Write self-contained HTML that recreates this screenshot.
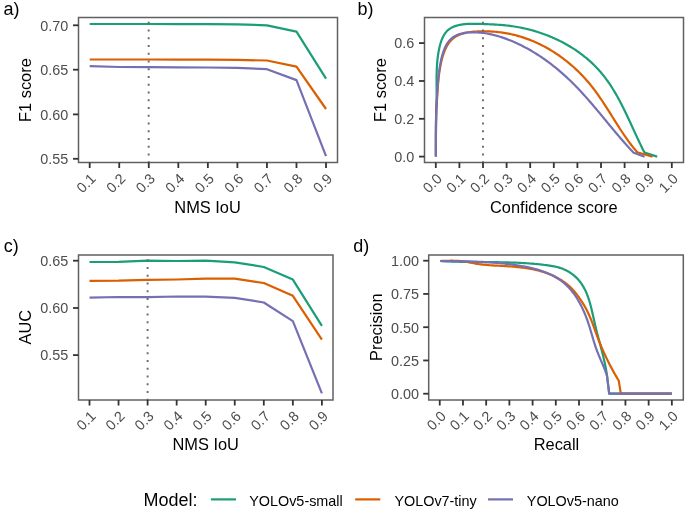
<!DOCTYPE html><html><head><meta charset="utf-8"><style>html,body{margin:0;padding:0;background:#fff;width:685px;height:510px;overflow:hidden}svg{display:block}text{font-family:"Liberation Sans",sans-serif}</style></head><body>
<svg width="685" height="510" viewBox="0 0 685 510">
<rect width="685" height="510" fill="#fff"/>
<path d="M89.70,24.00 L119.24,24.00 L148.78,24.00 L178.32,24.05 L207.86,24.10 L237.40,24.40 L266.94,25.30 L296.48,31.60 L326.02,78.70" fill="none" stroke="#1b9e77" stroke-width="2.2" stroke-linejoin="round"/>
<path d="M89.70,59.50 L119.24,59.50 L148.78,59.50 L178.32,59.60 L207.86,59.70 L237.40,59.90 L266.94,60.50 L296.48,66.60 L326.02,109.00" fill="none" stroke="#d95f02" stroke-width="2.2" stroke-linejoin="round"/>
<path d="M89.70,66.20 L119.24,67.00 L148.78,67.20 L178.32,67.30 L207.86,67.50 L237.40,67.80 L266.94,69.20 L296.48,80.10 L326.02,156.10" fill="none" stroke="#7570b3" stroke-width="2.2" stroke-linejoin="round"/>
<line x1="148.68" y1="163.2" x2="148.68" y2="17.5" stroke="#6a6a6a" stroke-width="1.9" stroke-dasharray="1.9 5.85"/>
<rect x="78.5" y="17.5" width="259.0" height="145.0" fill="none" stroke="#606060" stroke-width="1.5"/>
<line x1="73.0" y1="25.3" x2="78.5" y2="25.3" stroke="#333" stroke-width="1.8"/>
<line x1="73.0" y1="69.7" x2="78.5" y2="69.7" stroke="#333" stroke-width="1.8"/>
<line x1="73.0" y1="114.4" x2="78.5" y2="114.4" stroke="#333" stroke-width="1.8"/>
<line x1="73.0" y1="158.8" x2="78.5" y2="158.8" stroke="#333" stroke-width="1.8"/>
<line x1="89.7" y1="162.5" x2="89.7" y2="168.0" stroke="#333" stroke-width="1.8"/>
<line x1="119.24000000000001" y1="162.5" x2="119.24000000000001" y2="168.0" stroke="#333" stroke-width="1.8"/>
<line x1="148.78" y1="162.5" x2="148.78" y2="168.0" stroke="#333" stroke-width="1.8"/>
<line x1="178.32" y1="162.5" x2="178.32" y2="168.0" stroke="#333" stroke-width="1.8"/>
<line x1="207.86" y1="162.5" x2="207.86" y2="168.0" stroke="#333" stroke-width="1.8"/>
<line x1="237.39999999999998" y1="162.5" x2="237.39999999999998" y2="168.0" stroke="#333" stroke-width="1.8"/>
<line x1="266.94" y1="162.5" x2="266.94" y2="168.0" stroke="#333" stroke-width="1.8"/>
<line x1="296.48" y1="162.5" x2="296.48" y2="168.0" stroke="#333" stroke-width="1.8"/>
<line x1="326.02" y1="162.5" x2="326.02" y2="168.0" stroke="#333" stroke-width="1.8"/>
<g transform="translate(0 0.3)">
<path d="M435.90,156.20 L435.90,154.62 L435.90,153.04 L435.90,151.46 L435.90,149.88 L435.90,148.30 L435.89,146.72 L435.90,145.14 L435.90,143.56 L435.90,141.98 L435.90,140.40 L435.90,138.82 L435.91,137.24 L435.91,135.66 L435.92,134.08 L435.93,132.50 L435.94,130.92 L435.95,129.34 L435.96,127.76 L435.98,126.18 L435.99,124.60 L436.01,123.02 L436.03,121.44 L436.06,119.86 L436.08,118.28 L436.11,116.70 L436.14,115.12 L436.18,113.54 L436.22,111.96 L436.26,110.38 L436.30,108.80 L436.38,107.31 L436.45,105.81 L436.50,104.32 L436.55,102.82 L436.58,101.32 L436.61,99.82 L436.63,98.31 L436.64,96.81 L436.64,95.30 L436.64,93.79 L436.64,92.29 L436.63,90.78 L436.62,89.26 L436.61,87.75 L436.60,86.24 L436.59,84.73 L436.58,83.21 L436.58,81.70 L436.58,80.18 L436.58,78.67 L436.59,77.15 L436.60,75.64 L436.63,74.12 L436.66,72.60 L436.70,71.09 L436.75,69.57 L436.82,68.06 L436.90,66.54 L436.99,65.03 L437.09,63.51 L437.21,62.00 L437.35,60.49 L437.50,58.98 L437.68,57.47 L437.87,55.96 L438.08,54.45 L438.32,52.94 L438.58,51.44 L438.86,49.93 L439.16,48.43 L439.49,46.93 L439.85,45.44 L440.25,43.96 L440.68,42.49 L441.15,41.05 L441.66,39.64 L442.22,38.26 L442.83,36.92 L443.49,35.63 L444.22,34.39 L445.00,33.20 L445.86,32.08 L446.78,31.02 L447.77,30.03 L448.84,29.12 L449.99,28.30 L451.22,27.55 L452.51,26.89 L453.87,26.30 L455.28,25.78 L456.74,25.33 L458.23,24.94 L459.75,24.61 L461.29,24.33 L462.84,24.10 L464.39,23.91 L465.95,23.76 L467.50,23.65 L469.05,23.57 L470.61,23.52 L472.15,23.49 L473.70,23.49 L475.24,23.50 L476.78,23.53 L478.32,23.57 L479.85,23.61 L481.38,23.66 L482.91,23.70 L484.43,23.75 L485.94,23.81 L487.46,23.87 L488.97,23.93 L490.47,24.00 L491.98,24.07 L493.48,24.15 L494.97,24.23 L496.47,24.33 L497.96,24.43 L499.45,24.54 L500.94,24.65 L502.42,24.78 L503.91,24.92 L505.39,25.06 L506.87,25.22 L508.35,25.39 L509.83,25.57 L511.31,25.77 L512.79,25.97 L514.26,26.19 L515.74,26.43 L517.22,26.68 L518.69,26.94 L520.17,27.22 L521.64,27.52 L523.12,27.82 L524.59,28.15 L526.06,28.48 L527.53,28.84 L528.99,29.20 L530.46,29.58 L531.92,29.98 L533.38,30.38 L534.83,30.81 L536.28,31.24 L537.73,31.70 L539.18,32.16 L540.62,32.64 L542.05,33.14 L543.49,33.64 L544.91,34.17 L546.34,34.70 L547.75,35.25 L549.17,35.82 L550.57,36.39 L551.97,36.99 L553.37,37.59 L554.76,38.21 L556.14,38.85 L557.51,39.49 L558.88,40.15 L560.24,40.83 L561.60,41.52 L562.94,42.22 L564.28,42.94 L565.61,43.67 L566.93,44.41 L568.25,45.17 L569.55,45.94 L570.85,46.72 L572.13,47.52 L573.41,48.33 L574.67,49.15 L575.93,49.99 L577.18,50.84 L578.41,51.71 L579.64,52.59 L580.85,53.48 L582.06,54.38 L583.25,55.30 L584.43,56.23 L585.60,57.18 L586.76,58.13 L587.90,59.10 L589.03,60.09 L590.15,61.08 L591.26,62.09 L592.35,63.12 L593.43,64.15 L594.50,65.20 L595.55,66.26 L596.59,67.34 L597.61,68.43 L598.62,69.53 L599.61,70.64 L600.59,71.76 L601.56,72.90 L602.50,74.05 L603.44,75.22 L604.36,76.39 L605.27,77.58 L606.16,78.77 L607.04,79.98 L607.91,81.20 L608.77,82.43 L609.61,83.67 L610.44,84.91 L611.26,86.17 L612.07,87.44 L612.87,88.71 L613.66,89.99 L614.44,91.28 L615.21,92.58 L615.97,93.88 L616.72,95.20 L617.46,96.51 L618.19,97.84 L618.92,99.17 L619.64,100.50 L620.35,101.85 L621.05,103.19 L621.75,104.54 L622.44,105.90 L623.12,107.26 L623.80,108.62 L624.47,109.99 L625.14,111.36 L625.80,112.73 L626.46,114.10 L627.12,115.48 L627.77,116.86 L628.42,118.24 L629.06,119.62 L629.71,121.00 L630.35,122.39 L630.98,123.77 L631.62,125.15 L632.25,126.54 L632.89,127.92 L633.52,129.30 L634.15,130.68 L634.79,132.05 L635.42,133.43 L636.05,134.80 L636.69,136.17 L637.32,137.54 L637.96,138.91 L638.60,140.27 L639.24,141.62 L639.89,142.98 L640.53,144.32 L641.18,145.67 L641.84,147.01 L642.50,148.34 L643.16,149.66 L643.83,150.99 L644.50,152.30 L657.20,156.30" fill="none" stroke="#1b9e77" stroke-width="2.2" stroke-linejoin="round"/>
<path d="M435.90,156.20 L435.90,154.62 L435.90,153.04 L435.90,151.46 L435.90,149.88 L435.90,148.30 L435.89,146.72 L435.90,145.14 L435.90,143.56 L435.90,141.98 L435.90,140.40 L435.90,138.82 L435.91,137.24 L435.91,135.66 L435.92,134.08 L435.93,132.50 L435.94,130.92 L435.95,129.34 L435.96,127.76 L435.98,126.18 L435.99,124.60 L436.01,123.02 L436.03,121.44 L436.06,119.86 L436.08,118.28 L436.11,116.70 L436.14,115.12 L436.18,113.54 L436.22,111.96 L436.26,110.38 L436.30,108.80 L436.43,107.27 L436.55,105.75 L436.66,104.23 L436.77,102.72 L436.87,101.21 L436.97,99.71 L437.06,98.21 L437.16,96.71 L437.25,95.22 L437.35,93.73 L437.44,92.24 L437.54,90.76 L437.64,89.27 L437.74,87.79 L437.85,86.31 L437.97,84.82 L438.09,83.34 L438.22,81.86 L438.36,80.37 L438.51,78.89 L438.67,77.40 L438.84,75.91 L439.03,74.42 L439.23,72.92 L439.44,71.42 L439.67,69.92 L439.92,68.41 L440.18,66.90 L440.47,65.38 L440.77,63.86 L441.09,62.33 L441.44,60.80 L441.81,59.27 L442.21,57.75 L442.64,56.24 L443.10,54.75 L443.59,53.27 L444.12,51.82 L444.68,50.39 L445.28,48.99 L445.92,47.63 L446.60,46.31 L447.33,45.03 L448.10,43.79 L448.92,42.61 L449.79,41.48 L450.71,40.41 L451.69,39.40 L452.72,38.46 L453.80,37.59 L454.95,36.79 L456.14,36.06 L457.39,35.39 L458.68,34.78 L460.01,34.22 L461.38,33.73 L462.79,33.29 L464.23,32.89 L465.69,32.54 L467.19,32.24 L468.70,31.98 L470.23,31.75 L471.78,31.57 L473.34,31.41 L474.90,31.28 L476.48,31.18 L478.05,31.10 L479.62,31.05 L481.19,31.01 L482.74,30.99 L484.30,30.99 L485.85,31.00 L487.39,31.03 L488.93,31.08 L490.46,31.15 L491.98,31.23 L493.50,31.34 L495.02,31.46 L496.52,31.59 L498.03,31.75 L499.53,31.92 L501.02,32.11 L502.51,32.32 L503.99,32.54 L505.47,32.79 L506.94,33.05 L508.41,33.33 L509.88,33.62 L511.34,33.94 L512.79,34.27 L514.24,34.62 L515.69,34.98 L517.13,35.37 L518.57,35.77 L520.00,36.19 L521.43,36.62 L522.85,37.08 L524.27,37.55 L525.68,38.04 L527.09,38.54 L528.49,39.06 L529.89,39.60 L531.28,40.15 L532.67,40.72 L534.05,41.30 L535.42,41.90 L536.79,42.52 L538.15,43.15 L539.51,43.80 L540.85,44.46 L542.20,45.14 L543.53,45.83 L544.86,46.54 L546.18,47.26 L547.50,47.99 L548.80,48.74 L550.10,49.51 L551.40,50.28 L552.68,51.07 L553.96,51.88 L555.23,52.70 L556.49,53.53 L557.74,54.37 L558.99,55.23 L560.22,56.10 L561.45,56.99 L562.67,57.88 L563.88,58.79 L565.08,59.71 L566.28,60.65 L567.46,61.59 L568.63,62.55 L569.80,63.52 L570.96,64.50 L572.10,65.49 L573.24,66.49 L574.36,67.50 L575.48,68.53 L576.59,69.56 L577.68,70.61 L578.77,71.67 L579.85,72.73 L580.91,73.81 L581.97,74.90 L583.01,75.99 L584.04,77.10 L585.06,78.22 L586.07,79.34 L587.07,80.48 L588.06,81.62 L589.03,82.77 L590.00,83.94 L590.95,85.11 L591.89,86.29 L592.82,87.47 L593.74,88.67 L594.65,89.87 L595.55,91.08 L596.44,92.29 L597.32,93.51 L598.19,94.74 L599.05,95.98 L599.91,97.22 L600.76,98.46 L601.60,99.71 L602.44,100.96 L603.27,102.22 L604.10,103.48 L604.92,104.74 L605.74,106.01 L606.55,107.28 L607.36,108.55 L608.17,109.82 L608.98,111.10 L609.78,112.38 L610.58,113.65 L611.38,114.93 L612.18,116.21 L612.98,117.49 L613.78,118.77 L614.58,120.05 L615.39,121.32 L616.19,122.60 L617.00,123.87 L617.81,125.14 L618.62,126.41 L619.43,127.68 L620.25,128.94 L621.08,130.20 L621.91,131.46 L622.74,132.71 L623.58,133.95 L624.43,135.20 L625.28,136.43 L626.14,137.67 L627.01,138.89 L627.89,140.11 L628.77,141.33 L629.67,142.53 L630.57,143.73 L631.48,144.92 L632.41,146.11 L633.34,147.28 L634.29,148.45 L635.25,149.61 L636.22,150.76 L637.20,151.90 L652.50,156.50" fill="none" stroke="#d95f02" stroke-width="2.2" stroke-linejoin="round"/>
<path d="M435.90,156.20 L435.90,154.62 L435.90,153.04 L435.90,151.46 L435.90,149.88 L435.90,148.30 L435.89,146.72 L435.90,145.14 L435.90,143.56 L435.90,141.98 L435.90,140.40 L435.90,138.82 L435.91,137.24 L435.91,135.66 L435.92,134.08 L435.93,132.50 L435.94,130.92 L435.95,129.34 L435.96,127.76 L435.98,126.18 L435.99,124.60 L436.01,123.02 L436.03,121.44 L436.06,119.86 L436.08,118.28 L436.11,116.70 L436.14,115.12 L436.18,113.54 L436.22,111.96 L436.26,110.38 L436.30,108.80 L436.39,107.25 L436.48,105.72 L436.57,104.19 L436.65,102.67 L436.73,101.15 L436.82,99.64 L436.90,98.14 L436.98,96.64 L437.06,95.14 L437.14,93.65 L437.23,92.17 L437.32,90.68 L437.41,89.20 L437.51,87.71 L437.61,86.23 L437.72,84.75 L437.84,83.27 L437.96,81.79 L438.10,80.30 L438.24,78.81 L438.39,77.32 L438.55,75.83 L438.73,74.33 L438.91,72.83 L439.11,71.32 L439.32,69.81 L439.55,68.29 L439.79,66.76 L440.04,65.23 L440.32,63.68 L440.61,62.13 L440.92,60.58 L441.25,59.03 L441.61,57.48 L442.00,55.95 L442.41,54.43 L442.86,52.93 L443.35,51.45 L443.87,50.00 L444.43,48.58 L445.03,47.20 L445.68,45.86 L446.37,44.57 L447.12,43.33 L447.92,42.14 L448.77,41.01 L449.68,39.94 L450.65,38.95 L451.68,38.02 L452.77,37.18 L453.93,36.40 L455.14,35.70 L456.41,35.07 L457.72,34.50 L459.08,34.00 L460.48,33.57 L461.92,33.19 L463.39,32.87 L464.88,32.60 L466.41,32.38 L467.95,32.22 L469.51,32.10 L471.09,32.02 L472.67,31.99 L474.26,32.00 L475.85,32.04 L477.44,32.12 L479.02,32.23 L480.58,32.37 L482.14,32.53 L483.68,32.73 L485.21,32.95 L486.73,33.19 L488.23,33.46 L489.73,33.75 L491.21,34.06 L492.68,34.40 L494.15,34.76 L495.60,35.14 L497.05,35.54 L498.49,35.95 L499.92,36.39 L501.34,36.85 L502.76,37.32 L504.17,37.81 L505.58,38.31 L506.98,38.83 L508.37,39.37 L509.77,39.91 L511.15,40.48 L512.53,41.05 L513.91,41.65 L515.28,42.25 L516.65,42.87 L518.01,43.50 L519.36,44.15 L520.72,44.80 L522.06,45.48 L523.40,46.16 L524.74,46.86 L526.06,47.57 L527.39,48.29 L528.71,49.02 L530.02,49.76 L531.33,50.52 L532.63,51.29 L533.92,52.07 L535.21,52.86 L536.50,53.66 L537.77,54.48 L539.04,55.30 L540.31,56.14 L541.57,56.98 L542.82,57.84 L544.07,58.70 L545.31,59.58 L546.55,60.46 L547.77,61.36 L549.00,62.26 L550.21,63.18 L551.42,64.10 L552.62,65.03 L553.82,65.97 L555.01,66.92 L556.19,67.88 L557.36,68.85 L558.53,69.82 L559.69,70.80 L560.85,71.79 L562.00,72.79 L563.14,73.80 L564.27,74.81 L565.40,75.83 L566.51,76.85 L567.63,77.89 L568.73,78.93 L569.83,79.97 L570.92,81.03 L572.00,82.09 L573.07,83.15 L574.14,84.22 L575.20,85.30 L576.26,86.38 L577.31,87.47 L578.35,88.56 L579.39,89.65 L580.42,90.76 L581.44,91.86 L582.47,92.97 L583.48,94.09 L584.49,95.21 L585.50,96.33 L586.50,97.46 L587.50,98.59 L588.49,99.72 L589.48,100.86 L590.47,102.00 L591.46,103.14 L592.44,104.28 L593.41,105.43 L594.39,106.58 L595.36,107.73 L596.33,108.89 L597.30,110.04 L598.27,111.20 L599.23,112.36 L600.20,113.52 L601.16,114.68 L602.12,115.84 L603.09,117.01 L604.05,118.17 L605.01,119.34 L605.97,120.50 L606.93,121.66 L607.89,122.83 L608.85,123.99 L609.81,125.16 L610.78,126.32 L611.74,127.48 L612.71,128.64 L613.68,129.80 L614.64,130.96 L615.62,132.12 L616.59,133.27 L617.57,134.43 L618.55,135.58 L619.53,136.73 L620.51,137.88 L621.50,139.02 L622.49,140.16 L623.49,141.30 L624.49,142.44 L625.49,143.57 L626.50,144.70 L627.51,145.83 L628.53,146.95 L629.55,148.07 L630.58,149.18 L631.62,150.29 L632.65,151.40 L633.70,152.50 L644.60,156.40" fill="none" stroke="#7570b3" stroke-width="2.2" stroke-linejoin="round"/>
</g>
<line x1="483.0" y1="163.2" x2="483.0" y2="17.5" stroke="#6a6a6a" stroke-width="1.9" stroke-dasharray="1.9 5.85"/>
<rect x="424.5" y="17.5" width="259.0" height="145.0" fill="none" stroke="#606060" stroke-width="1.5"/>
<line x1="419.0" y1="156.6" x2="424.5" y2="156.6" stroke="#333" stroke-width="1.8"/>
<line x1="419.0" y1="118.8" x2="424.5" y2="118.8" stroke="#333" stroke-width="1.8"/>
<line x1="419.0" y1="81.0" x2="424.5" y2="81.0" stroke="#333" stroke-width="1.8"/>
<line x1="419.0" y1="43.1" x2="424.5" y2="43.1" stroke="#333" stroke-width="1.8"/>
<line x1="435.8" y1="162.5" x2="435.8" y2="168.0" stroke="#333" stroke-width="1.8"/>
<line x1="459.40000000000003" y1="162.5" x2="459.40000000000003" y2="168.0" stroke="#333" stroke-width="1.8"/>
<line x1="483.0" y1="162.5" x2="483.0" y2="168.0" stroke="#333" stroke-width="1.8"/>
<line x1="506.6" y1="162.5" x2="506.6" y2="168.0" stroke="#333" stroke-width="1.8"/>
<line x1="530.2" y1="162.5" x2="530.2" y2="168.0" stroke="#333" stroke-width="1.8"/>
<line x1="553.8" y1="162.5" x2="553.8" y2="168.0" stroke="#333" stroke-width="1.8"/>
<line x1="577.4" y1="162.5" x2="577.4" y2="168.0" stroke="#333" stroke-width="1.8"/>
<line x1="601.0" y1="162.5" x2="601.0" y2="168.0" stroke="#333" stroke-width="1.8"/>
<line x1="624.6" y1="162.5" x2="624.6" y2="168.0" stroke="#333" stroke-width="1.8"/>
<line x1="648.2" y1="162.5" x2="648.2" y2="168.0" stroke="#333" stroke-width="1.8"/>
<line x1="671.8" y1="162.5" x2="671.8" y2="168.0" stroke="#333" stroke-width="1.8"/>
<path d="M89.50,262.00 L118.55,261.90 L147.60,260.70 L176.65,261.00 L205.70,260.70 L234.75,262.30 L263.80,267.00 L292.85,279.60 L321.90,325.90" fill="none" stroke="#1b9e77" stroke-width="2.2" stroke-linejoin="round"/>
<path d="M89.50,280.90 L118.55,280.70 L147.60,279.80 L176.65,279.50 L205.70,278.60 L234.75,278.60 L263.80,283.00 L292.85,295.80 L321.90,339.60" fill="none" stroke="#d95f02" stroke-width="2.2" stroke-linejoin="round"/>
<path d="M89.50,297.60 L118.55,297.00 L147.60,297.10 L176.65,296.50 L205.70,296.70 L234.75,297.80 L263.80,302.50 L292.85,321.10 L321.90,393.30" fill="none" stroke="#7570b3" stroke-width="2.2" stroke-linejoin="round"/>
<line x1="147.6" y1="400.65" x2="147.6" y2="255.0" stroke="#6a6a6a" stroke-width="1.9" stroke-dasharray="1.9 5.85"/>
<rect x="78.5" y="255.0" width="254.5" height="145.0" fill="none" stroke="#606060" stroke-width="1.5"/>
<line x1="73.0" y1="260.7" x2="78.5" y2="260.7" stroke="#333" stroke-width="1.8"/>
<line x1="73.0" y1="308.0" x2="78.5" y2="308.0" stroke="#333" stroke-width="1.8"/>
<line x1="73.0" y1="355.1" x2="78.5" y2="355.1" stroke="#333" stroke-width="1.8"/>
<line x1="89.5" y1="400.0" x2="89.5" y2="405.5" stroke="#333" stroke-width="1.8"/>
<line x1="118.55" y1="400.0" x2="118.55" y2="405.5" stroke="#333" stroke-width="1.8"/>
<line x1="147.6" y1="400.0" x2="147.6" y2="405.5" stroke="#333" stroke-width="1.8"/>
<line x1="176.65" y1="400.0" x2="176.65" y2="405.5" stroke="#333" stroke-width="1.8"/>
<line x1="205.7" y1="400.0" x2="205.7" y2="405.5" stroke="#333" stroke-width="1.8"/>
<line x1="234.75" y1="400.0" x2="234.75" y2="405.5" stroke="#333" stroke-width="1.8"/>
<line x1="263.8" y1="400.0" x2="263.8" y2="405.5" stroke="#333" stroke-width="1.8"/>
<line x1="292.85" y1="400.0" x2="292.85" y2="405.5" stroke="#333" stroke-width="1.8"/>
<line x1="321.9" y1="400.0" x2="321.9" y2="405.5" stroke="#333" stroke-width="1.8"/>
<path d="M440.30,261.00 L441.82,261.09 L443.34,261.17 L444.86,261.25 L446.38,261.32 L447.91,261.39 L449.43,261.45 L450.94,261.51 L452.46,261.56 L453.98,261.61 L455.50,261.66 L457.02,261.70 L458.54,261.74 L460.05,261.78 L461.57,261.81 L463.09,261.84 L464.61,261.87 L466.12,261.89 L467.64,261.91 L469.16,261.94 L470.67,261.95 L472.19,261.97 L473.70,261.99 L475.22,262.00 L476.73,262.02 L478.25,262.03 L479.76,262.04 L481.28,262.05 L482.79,262.07 L484.31,262.08 L485.82,262.09 L487.34,262.10 L488.85,262.12 L490.36,262.13 L491.88,262.15 L493.39,262.16 L494.91,262.18 L496.42,262.20 L497.93,262.22 L499.45,262.25 L500.96,262.27 L502.48,262.30 L503.99,262.33 L505.50,262.37 L507.02,262.41 L508.53,262.45 L510.05,262.49 L511.56,262.54 L513.07,262.59 L514.59,262.65 L516.10,262.71 L517.62,262.77 L519.13,262.84 L520.65,262.92 L522.16,263.00 L523.68,263.09 L525.20,263.18 L526.71,263.27 L528.23,263.38 L529.74,263.49 L531.26,263.60 L532.78,263.72 L534.29,263.85 L535.81,263.99 L537.33,264.13 L538.85,264.28 L540.37,264.44 L541.88,264.61 L543.40,264.78 L544.92,264.97 L546.44,265.16 L547.96,265.36 L549.47,265.58 L550.99,265.82 L552.49,266.08 L553.99,266.36 L555.48,266.68 L556.95,267.03 L558.42,267.42 L559.87,267.84 L561.31,268.31 L562.73,268.83 L564.13,269.40 L565.51,270.02 L566.86,270.70 L568.20,271.43 L569.50,272.22 L570.78,273.05 L572.02,273.94 L573.23,274.86 L574.41,275.83 L575.54,276.84 L576.63,277.88 L577.68,278.96 L578.68,280.08 L579.63,281.22 L580.54,282.39 L581.40,283.60 L582.22,284.82 L583.00,286.08 L583.74,287.36 L584.45,288.66 L585.12,289.99 L585.76,291.33 L586.37,292.70 L586.94,294.08 L587.49,295.49 L588.01,296.91 L588.51,298.34 L588.98,299.79 L589.44,301.25 L589.87,302.72 L590.29,304.20 L590.68,305.69 L591.07,307.19 L591.44,308.69 L591.80,310.20 L592.16,311.71 L592.50,313.23 L592.84,314.75 L593.18,316.26 L593.51,317.78 L593.84,319.30 L594.18,320.81 L594.52,322.31 L594.86,323.82 L595.20,325.31 L595.56,326.80 L595.92,328.28 L596.29,329.75 L596.66,331.22 L597.03,332.68 L597.41,334.14 L597.79,335.60 L598.18,337.05 L598.56,338.50 L598.95,339.95 L599.34,341.39 L599.72,342.83 L600.11,344.28 L600.49,345.72 L600.88,347.16 L601.26,348.60 L601.64,350.05 L602.01,351.49 L602.38,352.94 L602.75,354.39 L603.11,355.85 L603.46,357.30 L603.81,358.77 L604.15,360.24 L604.48,361.71 L604.80,363.19 L605.11,364.67 L605.42,366.17 L605.71,367.67 L605.99,369.17 L606.26,370.69 L606.52,372.22 L606.77,373.75 L607.00,375.30 L609.20,393.60 L671.80,393.60" fill="none" stroke="#1b9e77" stroke-width="2.2" stroke-linejoin="round"/>
<path d="M440.30,261.00 L441.82,260.95 L443.34,260.90 L444.86,260.85 L446.38,260.80 L447.90,260.77 L449.42,260.74 L450.94,260.72 L452.45,260.72 L453.97,260.73 L455.48,260.77 L456.99,260.82 L458.50,260.90 L460.01,261.01 L461.52,261.15 L463.02,261.31 L464.53,261.52 L466.03,261.75 L467.53,262.03 L469.03,262.33 L470.53,262.65 L472.02,262.97 L473.52,263.27 L475.01,263.54 L476.51,263.79 L478.00,264.02 L479.50,264.23 L480.99,264.42 L482.48,264.59 L483.98,264.75 L485.47,264.89 L486.97,265.02 L488.47,265.14 L489.96,265.24 L491.46,265.34 L492.97,265.44 L494.47,265.53 L495.98,265.61 L497.48,265.69 L498.99,265.77 L500.51,265.85 L502.02,265.93 L503.54,266.02 L505.06,266.11 L506.59,266.20 L508.11,266.30 L509.64,266.41 L511.17,266.52 L512.69,266.64 L514.22,266.77 L515.75,266.91 L517.27,267.05 L518.80,267.21 L520.32,267.38 L521.84,267.56 L523.36,267.76 L524.88,267.96 L526.39,268.18 L527.90,268.42 L529.40,268.67 L530.90,268.94 L532.39,269.22 L533.88,269.53 L535.36,269.85 L536.84,270.19 L538.31,270.55 L539.77,270.93 L541.22,271.34 L542.67,271.76 L544.10,272.21 L545.53,272.68 L546.95,273.18 L548.36,273.70 L549.76,274.25 L551.14,274.82 L552.52,275.42 L553.88,276.05 L555.24,276.71 L556.58,277.40 L557.90,278.11 L559.22,278.86 L560.52,279.64 L561.80,280.46 L563.07,281.30 L564.33,282.18 L565.57,283.10 L566.79,284.05 L567.99,285.03 L569.15,286.05 L570.27,287.09 L571.36,288.17 L572.41,289.27 L573.43,290.39 L574.42,291.54 L575.39,292.70 L576.33,293.89 L577.26,295.09 L578.16,296.30 L579.06,297.52 L579.93,298.76 L580.79,300.01 L581.63,301.27 L582.45,302.55 L583.25,303.83 L584.03,305.13 L584.78,306.44 L585.52,307.77 L586.23,309.10 L586.92,310.45 L587.59,311.81 L588.25,313.17 L588.88,314.55 L589.50,315.93 L590.10,317.32 L590.69,318.72 L591.27,320.13 L591.83,321.54 L592.38,322.95 L592.91,324.37 L593.44,325.80 L593.95,327.23 L594.46,328.66 L594.97,330.09 L595.47,331.52 L595.98,332.95 L596.49,334.38 L597.02,335.80 L597.55,337.22 L598.09,338.64 L598.63,340.06 L599.19,341.47 L599.75,342.88 L600.33,344.28 L600.91,345.68 L601.50,347.08 L602.10,348.48 L602.70,349.87 L603.32,351.25 L603.94,352.64 L604.57,354.02 L605.21,355.40 L605.85,356.77 L606.51,358.14 L607.17,359.50 L607.84,360.87 L608.52,362.22 L609.20,363.58 L609.90,364.93 L610.60,366.27 L611.31,367.61 L612.02,368.95 L612.75,370.29 L613.48,371.61 L614.22,372.94 L614.96,374.26 L615.71,375.58 L616.48,376.89 L617.24,378.20 L618.02,379.50 L618.80,380.80 L620.80,393.60 L671.80,393.60" fill="none" stroke="#d95f02" stroke-width="2.2" stroke-linejoin="round"/>
<path d="M440.30,261.00 L441.86,261.02 L443.41,261.04 L444.96,261.06 L446.50,261.08 L448.04,261.09 L449.57,261.11 L451.10,261.13 L452.63,261.15 L454.15,261.17 L455.67,261.19 L457.19,261.21 L458.70,261.24 L460.21,261.26 L461.71,261.29 L463.22,261.31 L464.72,261.35 L466.22,261.38 L467.71,261.41 L469.21,261.45 L470.70,261.49 L472.19,261.53 L473.68,261.58 L475.17,261.63 L476.66,261.68 L478.15,261.74 L479.63,261.80 L481.12,261.87 L482.60,261.94 L484.09,262.02 L485.57,262.10 L487.06,262.18 L488.54,262.27 L490.03,262.37 L491.51,262.47 L493.00,262.58 L494.49,262.69 L495.98,262.81 L497.47,262.93 L498.96,263.07 L500.45,263.21 L501.95,263.35 L503.45,263.51 L504.95,263.67 L506.45,263.84 L507.95,264.01 L509.46,264.20 L510.97,264.39 L512.49,264.59 L514.00,264.80 L515.52,265.02 L517.04,265.25 L518.57,265.49 L520.09,265.74 L521.62,266.00 L523.14,266.27 L524.66,266.56 L526.18,266.86 L527.69,267.17 L529.20,267.50 L530.71,267.85 L532.21,268.21 L533.70,268.58 L535.19,268.98 L536.67,269.39 L538.14,269.82 L539.60,270.28 L541.05,270.75 L542.49,271.24 L543.91,271.75 L545.33,272.29 L546.73,272.85 L548.11,273.43 L549.48,274.03 L550.84,274.66 L552.18,275.32 L553.50,276.00 L554.80,276.70 L556.08,277.44 L557.35,278.20 L558.59,278.99 L559.81,279.81 L561.01,280.66 L562.19,281.54 L563.34,282.45 L564.47,283.39 L565.57,284.37 L566.65,285.37 L567.70,286.41 L568.73,287.48 L569.73,288.57 L570.71,289.69 L571.67,290.84 L572.60,292.01 L573.51,293.21 L574.40,294.43 L575.26,295.67 L576.10,296.93 L576.93,298.21 L577.73,299.51 L578.50,300.83 L579.26,302.16 L580.00,303.51 L580.72,304.87 L581.42,306.25 L582.10,307.63 L582.76,309.03 L583.40,310.43 L584.02,311.85 L584.63,313.27 L585.21,314.69 L585.78,316.13 L586.34,317.56 L586.87,319.00 L587.39,320.44 L587.90,321.88 L588.39,323.32 L588.86,324.76 L589.32,326.19 L589.77,327.63 L590.20,329.06 L590.63,330.48 L591.05,331.91 L591.47,333.34 L591.88,334.76 L592.29,336.18 L592.71,337.60 L593.13,339.03 L593.55,340.45 L593.98,341.86 L594.42,343.28 L594.88,344.70 L595.34,346.12 L595.83,347.54 L596.33,348.96 L596.84,350.38 L597.38,351.80 L597.94,353.22 L598.52,354.64 L599.11,356.06 L599.70,357.49 L600.31,358.91 L600.92,360.32 L601.53,361.74 L602.13,363.16 L602.74,364.58 L603.33,365.99 L603.91,367.40 L604.48,368.81 L605.03,370.21 L605.56,371.61 L606.07,373.01 L606.55,374.41 L607.00,375.80 L609.20,393.60 L671.90,393.60" fill="none" stroke="#7570b3" stroke-width="2.2" stroke-linejoin="round"/>
<rect x="428.7" y="255.0" width="254.59999999999997" height="145.0" fill="none" stroke="#606060" stroke-width="1.5"/>
<line x1="423.2" y1="393.7" x2="428.7" y2="393.7" stroke="#333" stroke-width="1.8"/>
<line x1="423.2" y1="360.45" x2="428.7" y2="360.45" stroke="#333" stroke-width="1.8"/>
<line x1="423.2" y1="327.2" x2="428.7" y2="327.2" stroke="#333" stroke-width="1.8"/>
<line x1="423.2" y1="293.95" x2="428.7" y2="293.95" stroke="#333" stroke-width="1.8"/>
<line x1="423.2" y1="260.7" x2="428.7" y2="260.7" stroke="#333" stroke-width="1.8"/>
<line x1="439.75" y1="400.0" x2="439.75" y2="405.5" stroke="#333" stroke-width="1.8"/>
<line x1="462.96" y1="400.0" x2="462.96" y2="405.5" stroke="#333" stroke-width="1.8"/>
<line x1="486.17" y1="400.0" x2="486.17" y2="405.5" stroke="#333" stroke-width="1.8"/>
<line x1="509.38" y1="400.0" x2="509.38" y2="405.5" stroke="#333" stroke-width="1.8"/>
<line x1="532.59" y1="400.0" x2="532.59" y2="405.5" stroke="#333" stroke-width="1.8"/>
<line x1="555.8" y1="400.0" x2="555.8" y2="405.5" stroke="#333" stroke-width="1.8"/>
<line x1="579.01" y1="400.0" x2="579.01" y2="405.5" stroke="#333" stroke-width="1.8"/>
<line x1="602.22" y1="400.0" x2="602.22" y2="405.5" stroke="#333" stroke-width="1.8"/>
<line x1="625.4300000000001" y1="400.0" x2="625.4300000000001" y2="405.5" stroke="#333" stroke-width="1.8"/>
<line x1="648.64" y1="400.0" x2="648.64" y2="405.5" stroke="#333" stroke-width="1.8"/>
<line x1="671.85" y1="400.0" x2="671.85" y2="405.5" stroke="#333" stroke-width="1.8"/>
<line x1="210.9" y1="499.4" x2="236" y2="499.4" stroke="#1b9e77" stroke-width="2.2"/>
<line x1="355.2" y1="499.4" x2="380.3" y2="499.4" stroke="#d95f02" stroke-width="2.2"/>
<line x1="488" y1="499.4" x2="513" y2="499.4" stroke="#7570b3" stroke-width="2.2"/>
<g opacity="0.999">
<text x="68.2" y="30.6" text-anchor="end" font-size="14.4" fill="#4d4d4d">0.70</text>
<text x="68.2" y="75.0" text-anchor="end" font-size="14.4" fill="#4d4d4d">0.65</text>
<text x="68.2" y="119.7" text-anchor="end" font-size="14.4" fill="#4d4d4d">0.60</text>
<text x="68.2" y="164.10000000000002" text-anchor="end" font-size="14.4" fill="#4d4d4d">0.55</text>
<text x="89.70" y="172.60" text-anchor="end" font-size="14.4" fill="#4d4d4d" transform="rotate(-45 89.70 172.60)" dy="10">0.1</text>
<text x="119.24" y="172.60" text-anchor="end" font-size="14.4" fill="#4d4d4d" transform="rotate(-45 119.24 172.60)" dy="10">0.2</text>
<text x="148.78" y="172.60" text-anchor="end" font-size="14.4" fill="#4d4d4d" transform="rotate(-45 148.78 172.60)" dy="10">0.3</text>
<text x="178.32" y="172.60" text-anchor="end" font-size="14.4" fill="#4d4d4d" transform="rotate(-45 178.32 172.60)" dy="10">0.4</text>
<text x="207.86" y="172.60" text-anchor="end" font-size="14.4" fill="#4d4d4d" transform="rotate(-45 207.86 172.60)" dy="10">0.5</text>
<text x="237.40" y="172.60" text-anchor="end" font-size="14.4" fill="#4d4d4d" transform="rotate(-45 237.40 172.60)" dy="10">0.6</text>
<text x="266.94" y="172.60" text-anchor="end" font-size="14.4" fill="#4d4d4d" transform="rotate(-45 266.94 172.60)" dy="10">0.7</text>
<text x="296.48" y="172.60" text-anchor="end" font-size="14.4" fill="#4d4d4d" transform="rotate(-45 296.48 172.60)" dy="10">0.8</text>
<text x="326.02" y="172.60" text-anchor="end" font-size="14.4" fill="#4d4d4d" transform="rotate(-45 326.02 172.60)" dy="10">0.9</text>
<text x="207.6" y="213.1" text-anchor="middle" font-size="16.4" fill="#000">NMS IoU</text>
<text x="0" y="0" text-anchor="middle" font-size="16.4" fill="#000" transform="translate(31.3 90.1) rotate(-90)">F1 score</text>
<text x="3.4" y="14.7" font-size="18" fill="#000">a)</text>
<text x="414.3" y="161.9" text-anchor="end" font-size="14.4" fill="#4d4d4d">0.0</text>
<text x="414.3" y="124.1" text-anchor="end" font-size="14.4" fill="#4d4d4d">0.2</text>
<text x="414.3" y="86.3" text-anchor="end" font-size="14.4" fill="#4d4d4d">0.4</text>
<text x="414.3" y="48.4" text-anchor="end" font-size="14.4" fill="#4d4d4d">0.6</text>
<text x="435.80" y="172.60" text-anchor="end" font-size="14.4" fill="#4d4d4d" transform="rotate(-45 435.80 172.60)" dy="10">0.0</text>
<text x="459.40" y="172.60" text-anchor="end" font-size="14.4" fill="#4d4d4d" transform="rotate(-45 459.40 172.60)" dy="10">0.1</text>
<text x="483.00" y="172.60" text-anchor="end" font-size="14.4" fill="#4d4d4d" transform="rotate(-45 483.00 172.60)" dy="10">0.2</text>
<text x="506.60" y="172.60" text-anchor="end" font-size="14.4" fill="#4d4d4d" transform="rotate(-45 506.60 172.60)" dy="10">0.3</text>
<text x="530.20" y="172.60" text-anchor="end" font-size="14.4" fill="#4d4d4d" transform="rotate(-45 530.20 172.60)" dy="10">0.4</text>
<text x="553.80" y="172.60" text-anchor="end" font-size="14.4" fill="#4d4d4d" transform="rotate(-45 553.80 172.60)" dy="10">0.5</text>
<text x="577.40" y="172.60" text-anchor="end" font-size="14.4" fill="#4d4d4d" transform="rotate(-45 577.40 172.60)" dy="10">0.6</text>
<text x="601.00" y="172.60" text-anchor="end" font-size="14.4" fill="#4d4d4d" transform="rotate(-45 601.00 172.60)" dy="10">0.7</text>
<text x="624.60" y="172.60" text-anchor="end" font-size="14.4" fill="#4d4d4d" transform="rotate(-45 624.60 172.60)" dy="10">0.8</text>
<text x="648.20" y="172.60" text-anchor="end" font-size="14.4" fill="#4d4d4d" transform="rotate(-45 648.20 172.60)" dy="10">0.9</text>
<text x="671.80" y="172.60" text-anchor="end" font-size="14.4" fill="#4d4d4d" transform="rotate(-45 671.80 172.60)" dy="10">1.0</text>
<text x="553.8" y="213.1" text-anchor="middle" font-size="16.4" fill="#000">Confidence score</text>
<text x="0" y="0" text-anchor="middle" font-size="16.4" fill="#000" transform="translate(386.0 90.1) rotate(-90)">F1 score</text>
<text x="357.5" y="14.7" font-size="18" fill="#000">b)</text>
<text x="68.2" y="266.0" text-anchor="end" font-size="14.4" fill="#4d4d4d">0.65</text>
<text x="68.2" y="313.3" text-anchor="end" font-size="14.4" fill="#4d4d4d">0.60</text>
<text x="68.2" y="360.40000000000003" text-anchor="end" font-size="14.4" fill="#4d4d4d">0.55</text>
<text x="89.50" y="410.10" text-anchor="end" font-size="14.4" fill="#4d4d4d" transform="rotate(-45 89.50 410.10)" dy="10">0.1</text>
<text x="118.55" y="410.10" text-anchor="end" font-size="14.4" fill="#4d4d4d" transform="rotate(-45 118.55 410.10)" dy="10">0.2</text>
<text x="147.60" y="410.10" text-anchor="end" font-size="14.4" fill="#4d4d4d" transform="rotate(-45 147.60 410.10)" dy="10">0.3</text>
<text x="176.65" y="410.10" text-anchor="end" font-size="14.4" fill="#4d4d4d" transform="rotate(-45 176.65 410.10)" dy="10">0.4</text>
<text x="205.70" y="410.10" text-anchor="end" font-size="14.4" fill="#4d4d4d" transform="rotate(-45 205.70 410.10)" dy="10">0.5</text>
<text x="234.75" y="410.10" text-anchor="end" font-size="14.4" fill="#4d4d4d" transform="rotate(-45 234.75 410.10)" dy="10">0.6</text>
<text x="263.80" y="410.10" text-anchor="end" font-size="14.4" fill="#4d4d4d" transform="rotate(-45 263.80 410.10)" dy="10">0.7</text>
<text x="292.85" y="410.10" text-anchor="end" font-size="14.4" fill="#4d4d4d" transform="rotate(-45 292.85 410.10)" dy="10">0.8</text>
<text x="321.90" y="410.10" text-anchor="end" font-size="14.4" fill="#4d4d4d" transform="rotate(-45 321.90 410.10)" dy="10">0.9</text>
<text x="205.7" y="449.6" text-anchor="middle" font-size="16.4" fill="#000">NMS IoU</text>
<text x="0" y="0" text-anchor="middle" font-size="16.4" fill="#000" transform="translate(31.2 327.2) rotate(-90)">AUC</text>
<text x="3.8" y="251.8" font-size="18" fill="#000">c)</text>
<text x="418.9" y="399.0" text-anchor="end" font-size="14.4" fill="#4d4d4d">0.00</text>
<text x="418.9" y="365.75" text-anchor="end" font-size="14.4" fill="#4d4d4d">0.25</text>
<text x="418.9" y="332.5" text-anchor="end" font-size="14.4" fill="#4d4d4d">0.50</text>
<text x="418.9" y="299.25" text-anchor="end" font-size="14.4" fill="#4d4d4d">0.75</text>
<text x="418.9" y="266.0" text-anchor="end" font-size="14.4" fill="#4d4d4d">1.00</text>
<text x="439.75" y="410.10" text-anchor="end" font-size="14.4" fill="#4d4d4d" transform="rotate(-45 439.75 410.10)" dy="10">0.0</text>
<text x="462.96" y="410.10" text-anchor="end" font-size="14.4" fill="#4d4d4d" transform="rotate(-45 462.96 410.10)" dy="10">0.1</text>
<text x="486.17" y="410.10" text-anchor="end" font-size="14.4" fill="#4d4d4d" transform="rotate(-45 486.17 410.10)" dy="10">0.2</text>
<text x="509.38" y="410.10" text-anchor="end" font-size="14.4" fill="#4d4d4d" transform="rotate(-45 509.38 410.10)" dy="10">0.3</text>
<text x="532.59" y="410.10" text-anchor="end" font-size="14.4" fill="#4d4d4d" transform="rotate(-45 532.59 410.10)" dy="10">0.4</text>
<text x="555.80" y="410.10" text-anchor="end" font-size="14.4" fill="#4d4d4d" transform="rotate(-45 555.80 410.10)" dy="10">0.5</text>
<text x="579.01" y="410.10" text-anchor="end" font-size="14.4" fill="#4d4d4d" transform="rotate(-45 579.01 410.10)" dy="10">0.6</text>
<text x="602.22" y="410.10" text-anchor="end" font-size="14.4" fill="#4d4d4d" transform="rotate(-45 602.22 410.10)" dy="10">0.7</text>
<text x="625.43" y="410.10" text-anchor="end" font-size="14.4" fill="#4d4d4d" transform="rotate(-45 625.43 410.10)" dy="10">0.8</text>
<text x="648.64" y="410.10" text-anchor="end" font-size="14.4" fill="#4d4d4d" transform="rotate(-45 648.64 410.10)" dy="10">0.9</text>
<text x="671.85" y="410.10" text-anchor="end" font-size="14.4" fill="#4d4d4d" transform="rotate(-45 671.85 410.10)" dy="10">1.0</text>
<text x="556.5" y="450.4" text-anchor="middle" font-size="16.4" fill="#000">Recall</text>
<text x="0" y="0" text-anchor="middle" font-size="16.4" fill="#000" transform="translate(382.0 327.2) rotate(-90)">Precision</text>
<text x="353.2" y="251.7" font-size="18" fill="#000">d)</text>
<text x="143.6" y="506.3" font-size="18" fill="#000">Model:</text>
<text x="249.2" y="505.5" font-size="14.4" fill="#000">YOLOv5-small</text>
<text x="394.4" y="505.5" font-size="14.4" fill="#000">YOLOv7-tiny</text>
<text x="526.8" y="505.5" font-size="14.4" fill="#000">YOLOv5-nano</text>
</g>
</svg></body></html>
